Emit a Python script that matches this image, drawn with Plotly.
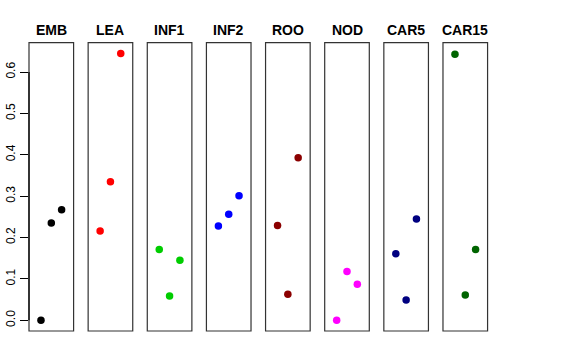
import plotly.graph_objects as go

panels = ["EMB", "LEA", "INF1", "INF2", "ROO", "NOD", "CAR5", "CAR15"]
colors = ["#000000", "#FF0000", "#00CD00", "#0000FF", "#8B0000", "#FF00FF", "#000080", "#006400"]
xpos = [1, 2, 3]
values = {
    "EMB":   [0.000, 0.235, 0.267],
    "LEA":   [0.216, 0.335, 0.645],
    "INF1":  [0.171, 0.059, 0.145],
    "INF2":  [0.228, 0.256, 0.301],
    "ROO":   [0.229, 0.063, 0.393],
    "NOD":   [0.000, 0.118, 0.087],
    "CAR5":  [0.161, 0.049, 0.245],
    "CAR15": [0.643, 0.061, 0.171],
}
ytick_vals = [0.0, 0.1, 0.2, 0.3, 0.4, 0.5, 0.6]
ytick_text = ["0.0", "0.1", "0.2", "0.3", "0.4", "0.5", "0.6"]

W, H = 576, 360
left0, period, pw = 29.0, 59.14, 44.6
top_px, bot_px = 42.7, 331.0

ymin = 0.0
ymax = max(max(v) for v in values.values())
pad = (ymax - ymin) * 0.04
yrange = [ymin - pad, ymax + pad]
xrange = [0 - 0.16, 4 + 0.16]

fig = go.Figure()
layout = dict(
    width=W, height=H,
    margin=dict(l=0, r=0, t=0, b=0, autoexpand=False),
    paper_bgcolor="white", plot_bgcolor="white",
    showlegend=False,
    font=dict(family="Liberation Sans, Arial, sans-serif", size=12, color="black"),
)
shapes = []
annotations = []
for i, name in enumerate(panels):
    idx = "" if i == 0 else str(i + 1)
    xa = "x" + idx
    ya = "y" + idx
    x0 = (left0 + i * period) / W
    x1 = (left0 + i * period + pw) / W
    layout["xaxis" + idx] = dict(
        domain=[x0, x1], range=xrange, showticklabels=False, ticks="",
        showgrid=False, zeroline=False, showline=False, anchor=ya, automargin=False,
    )
    ydict = dict(
        domain=[1 - bot_px / H, 1 - top_px / H], range=yrange,
        showgrid=False, zeroline=False, showline=False, anchor=xa, automargin=False,
    )
    if i == 0:
        ydict.update(tickvals=ytick_vals, ticktext=ytick_text, ticks="outside",
                     ticklen=8, tickcolor="black", tickwidth=1, tickangle=-90,
                     tickfont=dict(size=12, color="black"))
    else:
        ydict.update(showticklabels=False, ticks="")
    layout["yaxis" + idx] = ydict
    fig.add_trace(go.Scatter(
        x=xpos, y=values[name], mode="markers", xaxis=xa, yaxis=ya,
        marker=dict(color=colors[i], size=7.5, line=dict(width=0)),
        hoverinfo="skip",
    ))
    shapes.append(dict(type="rect", xref=xa + " domain", yref=ya + " domain",
                       x0=0, x1=1, y0=0, y1=1,
                       line=dict(color="#333333", width=1.2), layer="above"))
    annotations.append(dict(text="<b>%s</b>" % name, xref=xa + " domain", yref="paper",
                            x=0.5, y=1 - 29.5 / H, xanchor="center", yanchor="middle",
                            showarrow=False, font=dict(size=14, color="black")))
# y-axis line (R style, spanning the tick range)
shapes.append(dict(type="line", xref="x domain", yref="y", x0=0, x1=0,
                   y0=ytick_vals[0], y1=ytick_vals[-1],
                   line=dict(color="black", width=1.2), layer="above"))
layout["shapes"] = shapes
layout["annotations"] = annotations
fig.update_layout(**layout)
fig.write_html("out.html", config={"displayModeBar": False},
               post_script="document.body.style.margin='0px';")
